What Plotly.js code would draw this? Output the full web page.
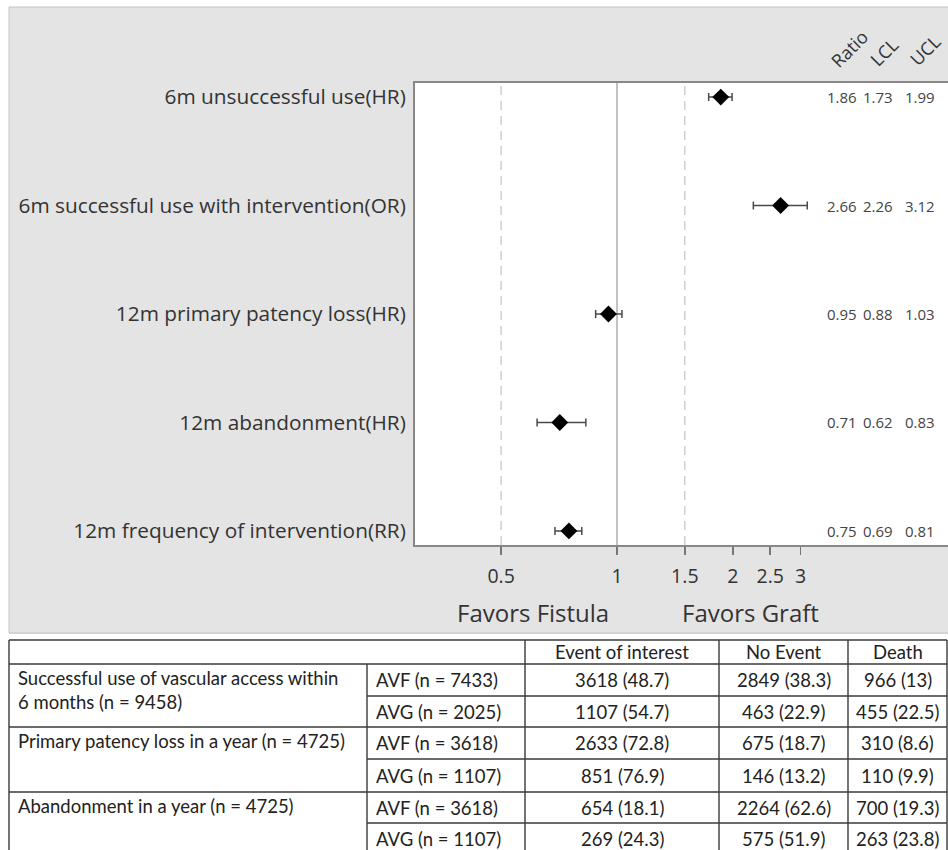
<!DOCTYPE html>
<html>
<head>
<meta charset="utf-8">
<script src="https://cdn.plot.ly/plotly-3.0.1.min.js"></script>
<style>html,body{margin:0;padding:0;background:#fff;}#chart{width:948px;height:850px;}</style>
</head>
<body>
<div id="chart"></div>
<script>
// ---------- Forest plot data ----------
const categories = ['6m unsuccessful use(HR)', '6m successful use with intervention(OR)', '12m primary patency loss(HR)', '12m abandonment(HR)', '12m frequency of intervention(RR)'];
const ratio = [1.86, 2.66, 0.95, 0.71, 0.75];
const lcl = [1.73, 2.26, 0.88, 0.62, 0.69];
const ucl = [1.99, 3.12, 1.03, 0.83, 0.81];
const xTicks = [0.5, 1, 1.5, 2, 2.5, 3];
const xTickText = ['0.5', '1', '1.5', '2', '2.5', '3'];
const statHeaders = ['Ratio', 'LCL', 'UCL'];
const favorLabels = ['Favors Fistula', 'Favors Graft'];
const refDashed = [0.5, 1.5];
const refSolid = [1];

// ---------- Table data ----------
const tableHeaders = ['Event of interest', 'No Event', 'Death'];
const outcomes = ['Successful use of vascular access within<br>6 months (n = 9458)', 'Primary patency loss in a year (n = 4725)', 'Abandonment in a year (n = 4725)'];
const arms = ['AVF (n = 7433)', 'AVG (n = 2025)', 'AVF (n = 3618)', 'AVG (n = 1107)', 'AVF (n = 3618)', 'AVG (n = 1107)'];
const eventN = [3618, 1107, 2633, 851, 654, 269];
const eventPct = [48.7, 54.7, 72.8, 76.9, 18.1, 24.3];
const noEventN = [2849, 463, 675, 146, 2264, 575];
const noEventPct = [38.3, 22.9, 18.7, 13.2, 62.6, 51.9];
const deathN = [966, 455, 310, 110, 700, 263];
const deathPct = [13, 22.5, 8.6, 9.9, 19.3, 23.8];

// ---------- Layout geometry (pixels) ----------
const W = 948, H = 850;
const px = x => x / W;
const py = y => 1 - y / H;
const plotL = 415, plotT = 83, plotB = 545;
const FONT = '"Open Sans", "DejaVu Sans", sans-serif';
const TFONT = 'Lato, "Open Sans", sans-serif';

const trace = {
  type: 'scatter', mode: 'markers',
  x: ratio, y: categories,
  marker: {symbol: 'diamond', size: 13, color: '#000'},
  error_x: {
    type: 'data', symmetric: false,
    array: ucl.map((u, i) => u - ratio[i]),
    arrayminus: lcl.map((l, i) => ratio[i] - l),
    color: '#4a4a4a', thickness: 1.5, width: 4
  },
  hoverinfo: 'skip', showlegend: false
};

const shapes = [];
const annotations = [];

// white areas outside the gray panel
shapes.push({type: 'rect', xref: 'paper', yref: 'paper', x0: 0, x1: 1, y0: 0, y1: py(634), fillcolor: '#fff', line: {width: 0}, layer: 'below'});
shapes.push({type: 'rect', xref: 'paper', yref: 'paper', x0: 0, x1: px(9), y0: 0, y1: 1, fillcolor: '#fff', line: {width: 0}, layer: 'below'});
shapes.push({type: 'rect', xref: 'paper', yref: 'paper', x0: 0, x1: 1, y0: py(7), y1: 1, fillcolor: '#fff', line: {width: 0}, layer: 'below'});
shapes.push({type: 'rect', xref: 'paper', yref: 'paper', x0: px(9), x1: px(960), y0: py(633), y1: py(7), fillcolor: 'rgba(0,0,0,0)', line: {width: 1, color: '#c4c4c4'}, layer: 'below'});

// reference lines
refDashed.forEach(v => shapes.push({type: 'line', xref: 'x', yref: 'y domain', x0: v, x1: v, y0: 0, y1: 1, line: {color: '#d0d0d0', width: 1.5, dash: '9px,6px'}, layer: 'below'}));
refSolid.forEach(v => shapes.push({type: 'line', xref: 'x', yref: 'y domain', x0: v, x1: v, y0: 0, y1: 1, line: {color: '#999', width: 1.2}, layer: 'below'}));

// stat columns
const statCols = [ratio, lcl, ucl];
const statX = [842, 878, 920];
const statHeadPos = [[849, 49], [884, 52], [925, 50]];
statCols.forEach((col, j) => {
  col.forEach((v, i) => annotations.push({xref: 'paper', yref: 'y', x: px(statX[j]), y: i, text: v.toFixed(2), showarrow: false, xanchor: 'center', yanchor: 'middle', font: {family: FONT, size: 15, color: '#444'}}));
  annotations.push({xref: 'paper', yref: 'paper', x: px(statHeadPos[j][0]), y: py(statHeadPos[j][1]), text: statHeaders[j], textangle: -45, showarrow: false, xanchor: 'center', yanchor: 'middle', font: {family: FONT, size: 18, color: '#333'}});
});

// favors labels
const favorX = [533, 750];
favorLabels.forEach((t, j) => annotations.push({xref: 'paper', yref: 'paper', x: px(favorX[j]), y: py(612), text: t, showarrow: false, xanchor: 'center', yanchor: 'middle', font: {family: FONT, size: 24, color: '#333'}}));

// ---------- Table ----------
const colB = [9, 367, 525, 719, 848, 947];
const rowB = [640, 664, 696, 727, 759, 792, 823, 855];
const LC = '#3a3a3a', LW = 1.4;
const hline = (x0, x1, y) => shapes.push({type: 'line', xref: 'paper', yref: 'paper', x0: px(x0), x1: px(x1), y0: py(y), y1: py(y), line: {color: LC, width: LW}});
const vline = (x, y0, y1) => shapes.push({type: 'line', xref: 'paper', yref: 'paper', x0: px(x), x1: px(x), y0: py(y0), y1: py(y1), line: {color: LC, width: LW}});
hline(colB[0], colB[5], rowB[0]);
hline(colB[0], colB[5], rowB[1]);
for (let r = 2; r < rowB.length - 1; r++) {
  const groupEdge = (r - 1) % 2 === 0;
  hline(groupEdge ? colB[0] : colB[1], colB[5], rowB[r]);
}
vline(colB[0], rowB[0], 850);
vline(colB[5], rowB[0], 850);
vline(colB[1], rowB[1], 850);
[2, 3, 4].forEach(c => vline(colB[c], rowB[0], 850));

const tfont = {family: TFONT, size: 18.5, color: '#222'};
tableHeaders.forEach((t, j) => annotations.push({xref: 'paper', yref: 'paper', x: px((colB[j + 2] + colB[j + 3]) / 2), y: py((rowB[0] + rowB[1]) / 2), text: t, showarrow: false, xanchor: 'center', yanchor: 'middle', font: tfont}));
outcomes.forEach((t, g) => annotations.push({xref: 'paper', yref: 'paper', x: px(colB[0] + 7), y: py(rowB[1 + 2 * g] + 1), text: t, showarrow: false, xanchor: 'left', yanchor: 'top', align: 'left', font: tfont}));
const cellCols = [eventN.map((n, i) => `${n} (${eventPct[i]})`), noEventN.map((n, i) => `${n} (${noEventPct[i]})`), deathN.map((n, i) => `${n} (${deathPct[i]})`)];
arms.forEach((a, r) => {
  const yc = py((rowB[r + 1] + rowB[r + 2]) / 2);
  annotations.push({xref: 'paper', yref: 'paper', x: px(colB[1] + 7), y: yc, text: a, showarrow: false, xanchor: 'left', yanchor: 'middle', font: tfont});
  cellCols.forEach((col, j) => annotations.push({xref: 'paper', yref: 'paper', x: px((colB[j + 2] + colB[j + 3]) / 2), y: yc, text: col[r], showarrow: false, xanchor: 'center', yanchor: 'middle', font: tfont}));
});

const layout = {
  width: W, height: H,
  margin: {l: 0, r: 0, t: 0, b: 0, pad: 0},
  paper_bgcolor: '#e4e4e4', plot_bgcolor: '#fff',
  showlegend: false,
  xaxis: {
    type: 'log', domain: [px(plotL), 1],
    range: [Math.log10(0.2987), Math.log10(7.24)],
    tickvals: xTicks, ticktext: xTickText,
    ticks: 'outside', ticklen: 8, tickwidth: 1.5, tickcolor: '#777',
    showgrid: false, zeroline: false,
    showline: true, linecolor: '#888', linewidth: 2, mirror: true,
    tickfont: {family: FONT, size: 19.5, color: '#333'},
    ticklabelstandoff: 5,
    fixedrange: true
  },
  yaxis: {
    type: 'category', categoryarray: categories, categoryorder: 'array',
    domain: [py(plotB), py(plotT)],
    range: [4.13, -0.13],
    ticks: '', showgrid: false, zeroline: false,
    showline: true, linecolor: '#888', linewidth: 2, mirror: true,
    tickfont: {family: FONT, size: 20.8, color: '#333'},
    ticklabelstandoff: 3,
    fixedrange: true
  },
  shapes: shapes,
  annotations: annotations
};

Plotly.newPlot('chart', [trace], layout, {displayModeBar: false, staticPlot: true});
</script>
</body>
</html>
